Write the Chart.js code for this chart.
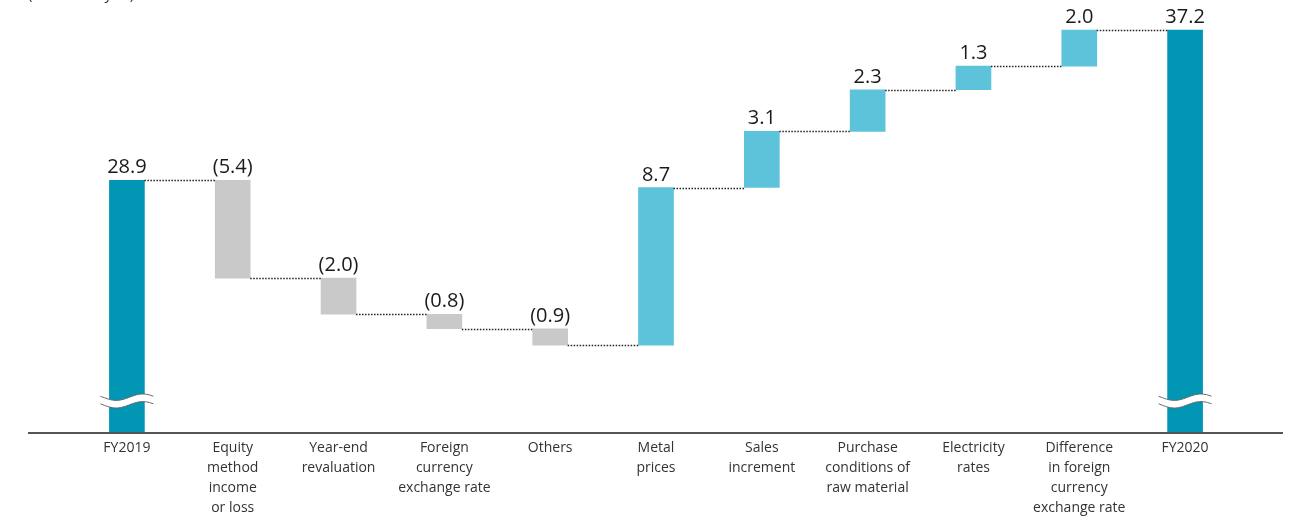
<!DOCTYPE html>
<html>
<head>
<meta charset="utf-8">
<script src="https://cdn.jsdelivr.net/npm/chart.js@4.4.1/dist/chart.umd.min.js"></script>
<style>
  body { margin: 0; background: #fff; }
</style>
</head>
<body>
<canvas id="myChart" width="1297" height="517"></canvas>
<script>
const categories = [
  ["FY2019"],
  ["Equity", "method", "income", "or loss"],
  ["Year-end", "revaluation"],
  ["Foreign", "currency", "exchange rate"],
  ["Others"],
  ["Metal", "prices"],
  ["Sales", "increment"],
  ["Purchase", "conditions of", "raw material"],
  ["Electricity", "rates"],
  ["Difference", "in foreign", "currency", "exchange rate"],
  ["FY2020"],
];
const changes = [28.9, -5.4, -2.0, -0.8, -0.9, 8.7, 3.1, 2.3, 1.3, 2.0, 37.2];
const isTotal = [true, false, false, false, false, false, false, false, false, false, true];
const unitLabel = "(Billions of yen)";
const yMin = 15;
const yMax = 38.8;

// floating bars: [start, end]
const bars = [];
const ends = [];
let running = 0;
changes.forEach((v, i) => {
  if (isTotal[i]) {
    bars.push([0, v]);
    running = v;
  } else {
    bars.push([running, running + v]);
    running = running + v;
  }
  ends.push(running);
});

const colors = changes.map((v, i) => isTotal[i] ? "#0096b4" : (v < 0 ? "#c8c9c8" : "#5cc3da"));

const fontFamily = "'Open Sans', 'Noto Sans', sans-serif";

const waterfallExtras = {
  id: "waterfallExtras",
  afterDatasetsDraw(chart) {
    const ctx = chart.ctx;
    const meta = chart.getDatasetMeta(0);
    const y = chart.scales.y;
    const area = chart.chartArea;

    ctx.save();
    // dotted connectors
    ctx.strokeStyle = "#222";
    ctx.lineWidth = 1.5;
    ctx.setLineDash([1.5, 1.5]);
    for (let i = 0; i < meta.data.length - 1; i++) {
      const a = meta.data[i], b = meta.data[i + 1];
      const py = Math.round(y.getPixelForValue(ends[i])) + 0.5;
      ctx.beginPath();
      ctx.moveTo(a.x + a.width / 2, py);
      ctx.lineTo(b.x - b.width / 2, py);
      ctx.stroke();
    }
    ctx.setLineDash([]);

    // axis break marks on totals
    meta.data.forEach((el, i) => {
      if (!isTotal[i]) return;
      const yc = area.bottom - 31;
      const x0 = el.x - el.width / 2 - 9, x1 = el.x + el.width / 2 + 9;
      const wave = (off) => {
        const pts = [];
        for (let s = 0; s <= 40; s++) {
          const t = s / 40;
          pts.push([x0 + t * (x1 - x0), yc + off + 3.2 * Math.sin(2 * Math.PI * t - 0.3)]);
        }
        return pts;
      };
      const up = wave(-3.8), lo = wave(3.8);
      ctx.beginPath();
      up.forEach((p, k) => k ? ctx.lineTo(p[0], p[1]) : ctx.moveTo(p[0], p[1]));
      lo.slice().reverse().forEach(p => ctx.lineTo(p[0], p[1]));
      ctx.closePath();
      ctx.fillStyle = "#fff";
      ctx.fill();
      ctx.strokeStyle = "#666";
      ctx.lineWidth = 1;
      [up, lo].forEach(line => {
        ctx.beginPath();
        line.forEach((p, k) => k ? ctx.lineTo(p[0], p[1]) : ctx.moveTo(p[0], p[1]));
        ctx.stroke();
      });
    });

    // value labels
    ctx.fillStyle = "#1a1a1a";
    ctx.font = "20px " + fontFamily;
    ctx.textAlign = "center";
    ctx.textBaseline = "alphabetic";
    meta.data.forEach((el, i) => {
      const v = changes[i];
      const top = Math.min(el.y, el.base);
      const txt = v < 0 ? "(" + Math.abs(v).toFixed(1) + ")" : v.toFixed(1);
      ctx.fillText(txt, el.x, top - 7);
    });

    // baseline
    ctx.strokeStyle = "#555";
    ctx.lineWidth = 2;
    ctx.beginPath();
    ctx.moveTo(28, area.bottom + 1);
    ctx.lineTo(1283, area.bottom + 1);
    ctx.stroke();

    // unit label, mostly cut off at the top
    ctx.fillStyle = "#333";
    ctx.font = "15px " + fontFamily;
    ctx.textAlign = "left";
    ctx.fillText(unitLabel, 28, -1);
    ctx.restore();
  },
};

const ctx = document.getElementById("myChart");
new Chart(ctx, {
  type: "bar",
  data: {
    labels: categories,
    datasets: [
      {
        data: bars,
        backgroundColor: colors,
        borderWidth: 0,
        barThickness: 35,
      },
    ],
  },
  options: {
    responsive: false,
    animation: false,
    devicePixelRatio: 1,
    layout: {
      padding: { left: 74, right: 59, top: 1, bottom: -7 },
    },
    scales: {
      x: {
        grid: { display: false, drawTicks: false },
        border: { display: false },
        ticks: {
          autoSkip: false,
          maxRotation: 0,
          padding: 6,
          color: "#333",
          font: { family: fontFamily, size: 14, lineHeight: "20px" },
        },
      },
      y: {
        display: false,
        min: yMin,
        max: yMax,
      },
    },
    plugins: {
      legend: { display: false },
      tooltip: { enabled: false },
    },
  },
  plugins: [waterfallExtras],
});
</script>
</body>
</html>
